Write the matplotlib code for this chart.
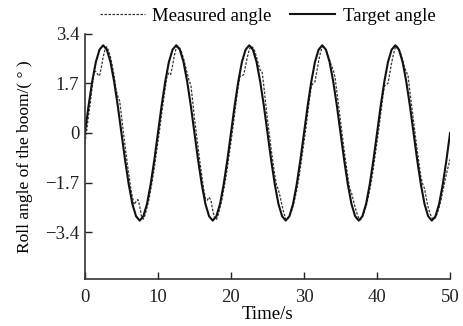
import numpy as np
import matplotlib
matplotlib.use("Agg")
import matplotlib.pyplot as plt

plt.rcParams["font.family"] = ["Liberation Serif", "DejaVu Serif"]

# target angle, sampled every 0.5 s from 0 to 50 s
target_time = np.arange(0, 50.01, 0.5)
target_angle = [
    0.00, 0.93, 1.76, 2.43, 2.85, 3.00, 2.85, 2.43, 1.76, 0.93,
    0.00, -0.93, -1.76, -2.43, -2.85, -3.00, -2.85, -2.43, -1.76, -0.93,
    0.00, 0.93, 1.76, 2.43, 2.85, 3.00, 2.85, 2.43, 1.76, 0.93,
    0.00, -0.93, -1.76, -2.43, -2.85, -3.00, -2.85, -2.43, -1.76, -0.93,
    0.00, 0.93, 1.76, 2.43, 2.85, 3.00, 2.85, 2.43, 1.76, 0.93,
    0.00, -0.93, -1.76, -2.43, -2.85, -3.00, -2.85, -2.43, -1.76, -0.93,
    0.00, 0.93, 1.76, 2.43, 2.85, 3.00, 2.85, 2.43, 1.76, 0.93,
    0.00, -0.93, -1.76, -2.43, -2.85, -3.00, -2.85, -2.43, -1.76, -0.93,
    0.00, 0.93, 1.76, 2.43, 2.85, 3.00, 2.85, 2.43, 1.76, 0.93,
    0.00, -0.93, -1.76, -2.43, -2.85, -3.00, -2.85, -2.43, -1.76, -0.93,
    0.00,
]

# measured angle, sampled every 0.25 s from 0 to 50 s
measured_time = np.arange(0, 50.001, 0.25)
measured_angle = [
    # 0 - 10 s
    -0.35, 0.10, 0.60, 1.05, 1.60, 2.10, 2.10, 2.00, 1.95, 2.25,
    2.60, 2.85, 2.95, 2.80, 2.60, 2.30, 1.95, 1.50, 1.25, 1.10,
    0.60, 0.05, -0.45, -0.95, -1.40, -1.85, -2.20, -2.45, -2.35, -2.28,
    -2.50, -2.85, -2.95, -2.80, -2.55, -2.30, -1.95, -1.60, -1.20, -0.75,
    # 10 - 20 s
    -0.30, 0.15, 0.65, 1.10, 1.55, 1.95, 2.05, 2.00, 2.30, 2.65,
    2.90, 2.97, 2.90, 2.75, 2.55, 2.30, 2.05, 1.80, 1.65, 1.10,
    0.50, 0.00, -0.50, -1.00, -1.45, -1.90, -2.25, -2.30, -2.20, -2.30,
    -2.65, -2.90, -2.97, -2.80, -2.55, -2.30, -1.95, -1.60, -1.20, -0.75,
    # 20 - 30 s
    -0.30, 0.15, 0.65, 1.15, 1.60, 1.95, 1.95, 2.00, 2.30, 2.60,
    2.85, 2.97, 2.92, 2.80, 2.60, 2.35, 2.15, 2.10, 1.60, 1.00,
    0.45, -0.05, -0.55, -1.00, -1.45, -1.80, -1.95, -2.20, -2.50, -2.75,
    -2.95, -2.95, -2.85, -2.70, -2.50, -2.25, -1.95, -1.60, -1.20, -0.75,
    # 30 - 40 s
    -0.30, 0.15, 0.65, 1.15, 1.60, 1.70, 1.75, 2.10, 2.45, 2.75,
    2.95, 2.95, 2.85, 2.70, 2.50, 2.30, 2.15, 1.90, 1.40, 0.90,
    0.40, -0.10, -0.60, -1.05, -1.50, -1.90, -2.05, -2.30, -2.55, -2.75,
    -2.92, -2.97, -2.85, -2.70, -2.50, -2.25, -1.95, -1.60, -1.20, -0.75,
    # 40 - 50 s
    -0.30, 0.15, 0.65, 1.15, 1.60, 1.65, 1.70, 2.05, 2.40, 2.70,
    2.92, 2.97, 2.85, 2.70, 2.50, 2.25, 2.10, 1.95, 1.40, 0.90,
    0.40, -0.10, -0.60, -1.05, -1.50, -1.75, -1.90, -2.25, -2.55, -2.75,
    -2.90, -2.97, -2.90, -2.75, -2.55, -2.30, -2.00, -1.70, -1.40, -1.15,
    -0.90,
]

y_ticks = [-3.4, -1.7, 0, 1.7, 3.4]
y_tick_labels = ["\u22123.4", "\u22121.7", "0", "1.7", "3.4"]
x_ticks = [0, 10, 20, 30, 40, 50]

FS = 13.5

fig = plt.figure(figsize=(4.64, 3.26), dpi=100)
ax = fig.add_axes([0.183, 0.144, 0.787, 0.753])

ax.plot(measured_time, measured_angle, color="#333333", lw=0.9,
        dashes=(2.0, 1.2), label="Measured angle")
ax.plot(target_time, target_angle, color="#111111", lw=1.5,
        label="Target angle")

ax.set_xlim(0, 50)
ax.set_ylim(-5.0, 3.4)
ax.set_xticks(x_ticks)
ax.set_yticks(y_ticks)
ax.set_yticklabels(y_tick_labels)
ax.tick_params(direction="in", length=5, width=1.0, labelsize=FS,
               colors="#222222")
ax.tick_params(axis="x", pad=7)
ax.tick_params(axis="y", pad=4)
for side in ("top", "right"):
    ax.spines[side].set_visible(False)
for side in ("left", "bottom"):
    ax.spines[side].set_linewidth(1.2)
    ax.spines[side].set_color("#333333")

ax.set_xlabel("Time/s", fontsize=FS, labelpad=0)
ax.set_ylabel("Roll angle of the boom/( \u00b0 )", fontsize=12.5, labelpad=9)

ax.legend(loc="lower center", bbox_to_anchor=(0.5, 1.005), ncol=2,
          frameon=False, fontsize=FS, handlelength=2.4,
          columnspacing=1.0, handletextpad=0.4, borderaxespad=0)

fig.savefig("out.png", dpi=100)
